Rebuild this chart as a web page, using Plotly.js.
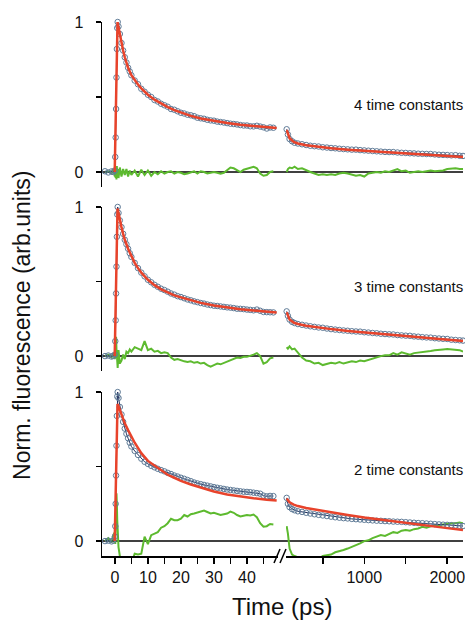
<!DOCTYPE html>
<html>
<head>
<meta charset="utf-8">
<script src="https://cdn.plot.ly/plotly-3.0.1.min.js"></script>
<style>html,body{margin:0;padding:0;background:#fff;}#plot{width:465px;height:623px;}</style>
</head>
<body>
<div id="plot"></div>
<script>
// ---- time grids (ps) ----
const tL = [-3,-2,-1,-0.5,0,0.12,0.24,0.36,0.48,0.6,0.72,0.85,1.1,1.5,2,2.5,3,3.5,4,4.5,5,
  6,7,8,9,10,11,12,13,14,15,16,17,18,19,20,21,22,23,24,25,26,27,28,29,30,31,32,33,34,35,36,37,38,39,40,41,42,43,44,45,46,47,48];
const tFitL = [-0.05,0.8,1.1,1.5,2,2.5,3,4,5,6,7,8,10,12,14,16,18,20,23,26,30,34,38,42,46,49];
const tR = [65,80,100,130,160,200,250,300,350,400,450,500,550,600,650,700,750,800,850,900,950,1000,1050,1100,1150,
  1200,1250,1300,1350,1400,1450,1500,1550,1600,1650,1700,1750,1800,1850,1900,1950,2000,2050,2100,2150,2190];
const tFitR = [65,100,150,200,300,400,600,800,1000,1200,1400,1600,1800,2000,2190];

// ---- panel 1: 4 time constants ----
const p1DataL = [0.005,-0.003,0.004,0.0,0.01,0.10,0.23,0.42,0.63,0.82,0.96,1.0,0.97,0.92,0.86,0.81,0.765,0.73,0.695,0.67,0.645,
  0.61,0.585,0.555,0.535,0.515,0.50,0.48,0.47,0.455,0.445,
  0.435,0.42,0.415,0.405,0.395,0.39,0.382,0.378,0.372,0.362,
  0.358,0.355,0.348,0.344,0.342,0.336,0.333,0.33,0.326,0.322,
  0.32,0.317,0.313,0.31,0.31,0.305,0.304,0.308,0.303,0.298,
  0.29,0.297,0.295];
const p1FitL = [0,1.0,0.965,0.915,0.86,0.81,0.765,0.695,0.645,0.61,0.583,0.558,0.515,0.482,0.455,0.432,0.412,0.395,0.374,0.357,0.34,0.327,0.315,0.306,0.298,0.293];
const p1ResL = [0.0,0.005,-0.01,0.02,-0.03,0.04,-0.04,0.03,-0.05,0.04,-0.03,0.02,-0.04,0.03,-0.03,0.02,-0.02,0.02,-0.03,0.01,-0.02,
  0.01,-0.03,0.015,-0.02,0.01,-0.025,0.0,-0.015,0.005,-0.01,
  0.0,0.005,-0.01,0.0,-0.005,-0.015,-0.01,0.0,0.005,-0.01,
  0.005,0.0,-0.01,-0.005,0.0,-0.005,-0.012,-0.005,0.015,0.03,
  0.025,0.01,0.0,0.015,0.02,0.03,0.035,0.025,-0.01,-0.025,
  -0.02,0.0,0.005];
const p1DataR = [0.285,0.25,0.22,0.205,0.195,
  0.19,0.185,0.18,0.175,0.172,0.17,0.165,0.163,0.16,0.158,
  0.155,0.153,0.151,0.149,0.149,0.146,0.144,0.142,0.14,0.138,
  0.136,0.134,0.133,0.133,0.13,0.128,0.127,0.125,0.124,0.122,
  0.121,0.12,0.12,0.117,0.115,0.114,0.113,0.111,0.112,0.108,
  0.107];
const p1FitR = [0.28,0.225,0.2,0.19,0.178,0.17,0.158,0.149,0.141,0.133,0.126,0.119,0.112,0.106,0.1];
const p1ResR = [0.0,0.02,0.03,0.025,0.035,
  0.02,0.025,0.01,0.0,-0.01,-0.02,-0.015,-0.02,-0.015,-0.02,
  -0.01,-0.005,-0.01,-0.02,-0.025,-0.02,-0.03,-0.01,-0.005,0.0,
  -0.005,0.005,0.0,0.01,0.02,0.005,0.01,-0.005,0.0,0.005,
  0.0,0.005,0.01,0.005,0.008,0.01,0.02,0.025,0.025,0.02,
  0.02];

// ---- panel 2: 3 time constants ----
const p2DataL = [0.0,0.004,-0.003,0.002,0.01,0.10,0.24,0.42,0.60,0.80,0.95,1.0,0.96,0.91,0.865,0.82,0.78,0.75,0.72,0.69,0.665,
  0.625,0.59,0.56,0.535,0.512,0.495,0.478,0.465,0.452,0.443,
  0.432,0.42,0.412,0.402,0.396,0.388,0.38,0.374,0.367,0.362,
  0.356,0.352,0.346,0.342,0.338,0.336,0.333,0.33,0.327,0.325,
  0.322,0.318,0.317,0.315,0.312,0.31,0.307,0.312,0.304,0.296,
  0.295,0.294,0.293];
const p2FitL = [0,0.99,0.96,0.91,0.865,0.82,0.78,0.72,0.667,0.625,0.59,0.56,0.512,0.476,0.448,0.425,0.407,0.394,0.374,0.357,0.339,0.326,0.315,0.306,0.298,0.292];
const p2ResL = [0.0,0.01,-0.01,0.02,-0.02,0.03,0.08,0.13,0.05,-0.06,0.02,-0.08,0.04,-0.05,-0.03,0.01,-0.02,0.03,0.02,0.045,0.03,
  0.06,0.05,0.04,0.1,0.04,0.05,0.03,0.035,0.02,0.025,
  0.02,-0.01,-0.025,-0.02,-0.03,-0.035,-0.04,-0.035,-0.045,-0.04,
  -0.05,-0.045,-0.06,-0.07,-0.06,-0.05,-0.055,-0.045,-0.04,-0.03,
  -0.015,-0.01,-0.012,-0.005,-0.005,0.0,0.01,0.02,0.0,-0.05,
  -0.04,-0.015,-0.01];
const p2DataR = [0.3,0.27,0.245,0.23,0.222,
  0.215,0.21,0.205,0.2,0.196,0.192,0.19,0.185,0.181,0.178,
  0.175,0.172,0.17,0.167,0.165,0.164,0.16,0.158,0.155,0.153,
  0.15,0.148,0.146,0.145,0.141,0.139,0.137,0.136,0.132,0.13,
  0.127,0.125,0.124,0.12,0.118,0.116,0.115,0.11,0.108,0.106,
  0.104];
const p2FitR = [0.295,0.245,0.225,0.215,0.204,0.195,0.181,0.169,0.158,0.148,0.139,0.129,0.12,0.111,0.102];
const p2ResR = [0.06,0.05,0.065,0.045,0.05,
  0.02,-0.01,-0.03,-0.035,-0.05,-0.045,-0.06,-0.055,-0.045,-0.05,
  -0.04,-0.05,-0.045,-0.035,-0.04,-0.03,-0.035,-0.025,-0.02,-0.01,
  0.0,0.005,0.005,0.02,0.01,0.025,0.015,0.01,0.02,0.025,
  0.03,0.03,0.035,0.04,0.045,0.045,0.048,0.045,0.045,0.04,
  0.03];

// ---- panel 3: 2 time constants ----
const p3DataL = [0.0,0.003,-0.002,0.004,0.03,0.10,0.25,0.44,0.64,0.84,0.97,1.0,0.96,0.90,0.85,0.80,0.755,0.72,0.69,0.66,0.635,
  0.605,0.578,0.553,0.532,0.518,0.505,0.495,0.485,0.476,0.468,
  0.458,0.45,0.44,0.433,0.425,0.418,0.41,0.402,0.393,0.387,
  0.382,0.377,0.372,0.367,0.362,0.358,0.354,0.35,0.346,0.343,
  0.34,0.337,0.334,0.331,0.33,0.328,0.325,0.322,0.318,0.305,
  0.3,0.303,0.302];
const p3FitL = [0,0.92,0.905,0.88,0.85,0.82,0.79,0.745,0.70,0.66,0.625,0.59,0.538,0.505,0.474,0.445,0.425,0.404,0.38,0.358,0.333,0.313,0.298,0.287,0.278,0.273];
const p3ResL = [0.0,0.02,-0.01,0.04,0.06,-0.02,0.1,0.2,0.32,0.25,0.14,0.05,-0.04,-0.1,-0.13,-0.15,-0.16,-0.16,-0.16,-0.16,-0.15,
  -0.085,-0.09,-0.085,0.03,-0.02,0.04,0.05,0.06,0.09,0.1,
  0.12,0.15,0.14,0.14,0.15,0.175,0.165,0.18,0.185,0.19,
  0.2,0.205,0.195,0.185,0.19,0.18,0.175,0.18,0.185,0.198,
  0.19,0.175,0.165,0.17,0.175,0.172,0.178,0.16,0.12,0.096,
  0.1,0.115,0.112];
const p3DataR = [0.29,0.25,0.228,0.215,0.207,
  0.2,0.196,0.19,0.185,0.18,0.176,0.172,0.168,0.164,0.16,
  0.157,0.154,0.152,0.149,0.147,0.145,0.143,0.141,0.139,0.137,
  0.136,0.134,0.133,0.131,0.13,0.129,0.127,0.125,0.123,0.121,
  0.12,0.118,0.116,0.114,0.112,0.11,0.109,0.107,0.105,0.103,
  0.101];
const p3FitR = [0.285,0.26,0.245,0.235,0.222,0.212,0.193,0.175,0.158,0.143,0.128,0.114,0.1,0.087,0.075];
const p3ResR = [0.1,0.05,-0.05,-0.09,-0.1,
  -0.11,-0.12,-0.13,-0.13,-0.12,-0.12,-0.1,-0.095,-0.09,-0.075,
  -0.07,-0.06,-0.05,-0.04,-0.025,-0.015,0.0,0.005,0.02,0.03,
  0.04,0.035,0.05,0.06,0.055,0.07,0.075,0.07,0.08,0.085,
  0.096,0.09,0.1,0.105,0.11,0.112,0.12,0.12,0.12,0.125,
  0.12];

const panelLabels = ['4 time constants','3 time constants','2 time constants'];
const xLeftTicks = [0,5,10,15,20,25,30,35,40,45];
const xLeftText = ['0','','10','','20','','30','','40',''];
const xRightTicks = [500,1000,1500,2000];
const xRightText = ['','1000','','2000'];
const yTicks = [0,0.5,1];
const yText = ['0','','1'];

const RED = '#e8432b', GREEN = '#5dba2f', CIRC = '#5f7b97', DARK = '#1f2d5c';
const FONT = 'Liberation Sans, Arial, sans-serif';

function panelTraces(xa, xb, ya, dL, fL, rL, dR, fR, rR) {
  const tr = [];
  const res = (x, y, xax) => ({x, y, xaxis: xax, yaxis: ya, type: 'scatter', mode: 'lines',
    line: {color: GREEN, width: 2}, hoverinfo: 'skip'});
  const dat = (x, y, xax) => ({x, y, xaxis: xax, yaxis: ya, type: 'scatter', mode: 'lines+markers',
    line: {color: DARK, width: 1}, cliponaxis: false,
    marker: {symbol: 'circle-open', size: 5.5, color: CIRC, line: {width: 1, color: CIRC}}, hoverinfo: 'skip'});
  const fit = (x, y, xax) => ({x, y, xaxis: xax, yaxis: ya, type: 'scatter', mode: 'lines',
    line: {color: RED, width: 2.5}, hoverinfo: 'skip'});
  tr.push(res(tL, rL, xa), res(tR, rR, xb));
  tr.push(dat(tL, dL, xa), dat(tR, dR, xb));
  tr.push(fit(tFitL, fL, xa), fit(tFitR, fR, xb));
  return tr;
}

const traces = [].concat(
  panelTraces('x', 'x2', 'y', p1DataL, p1FitL, p1ResL, p1DataR, p1FitR, p1ResR),
  panelTraces('x3', 'x4', 'y2', p2DataL, p2FitL, p2ResL, p2DataR, p2FitR, p2ResR),
  panelTraces('x5', 'x6', 'y3', p3DataL, p3FitL, p3ResL, p3DataR, p3FitR, p3ResR)
);
traces.forEach(t => t.showlegend = false);

const LD = [0, 0.4875], RD = [0.5097, 1];
const xL = [-3.9, 49.4], xR = [57, 2190];
const hiddenX = (dom, rng, anc) => ({domain: dom, range: rng, anchor: anc, visible: false, fixedrange: true});
const yAx = (dom, anc) => ({domain: dom, range: [-0.1, 1.0], anchor: anc, showline: true, linecolor: '#000', linewidth: 1.5,
  ticks: 'outside', ticklen: 5, tickwidth: 1.5, tickcolor: '#000', tickvals: yTicks, ticktext: yText,
  tickfont: {size: 16, color: '#111', family: FONT}, ticklabelstandoff: 9, showgrid: false, zeroline: false, fixedrange: true});
const botX = (dom, rng, tv, tt) => ({domain: dom, range: rng, anchor: 'y3', showline: true, linecolor: '#000', linewidth: 1.5,
  ticks: 'outside', ticklen: 6, tickwidth: 1.5, tickcolor: '#000', tickvals: tv, ticktext: tt, ticklabeloverflow: 'allow',
  tickfont: {size: 16, color: '#111', family: FONT}, showgrid: false, zeroline: false, fixedrange: true});

const shapes = [];
['y', 'y2', 'y3'].forEach(yr => shapes.push({type: 'line', xref: 'paper', yref: yr, x0: -0.0166, x1: 1, y0: 0, y1: 0,
  line: {color: '#000', width: 1.5}, layer: 'below'}));
shapes.push({type: 'line', xref: 'paper', yref: 'paper', x0: 0.4765, y0: -0.0131, x1: 0.4931, y1: 0.0131, line: {color: '#000', width: 1.5}});
shapes.push({type: 'line', xref: 'paper', yref: 'paper', x0: 0.4931, y0: -0.0131, x1: 0.5097, y1: 0.0131, line: {color: '#000', width: 1.5}});

const annotations = [
  {text: 'Norm. fluorescence (arb.units)', xref: 'paper', yref: 'paper', x: -0.22, y: 0.432, textangle: -90,
   showarrow: false, xanchor: 'center', yanchor: 'middle', font: {size: 23, color: '#111', family: FONT}},
  {text: 'Time (ps)', xref: 'paper', yref: 'paper', x: 0.4986, y: -0.0955, showarrow: false,
   xanchor: 'center', yanchor: 'middle', font: {size: 24, color: '#111', family: FONT}}
];
[['y', 0.45], ['y2', 0.47], ['y3', 0.48]].forEach((p, i) => annotations.push({
  text: panelLabels[i], xref: 'paper', yref: p[0], x: 1.006, y: p[1], showarrow: false,
  xanchor: 'right', yanchor: 'middle', font: {size: 15, color: '#111', family: FONT}}));

const layout = {
  width: 465, height: 623,
  margin: {l: 102, r: 2, t: 22, b: 67},
  paper_bgcolor: '#fff', plot_bgcolor: '#fff',
  font: {family: FONT, color: '#111'},
  showlegend: false,
  xaxis: hiddenX(LD, xL, 'y'), xaxis2: hiddenX(RD, xR, 'y'),
  xaxis3: hiddenX(LD, xL, 'y2'), xaxis4: hiddenX(RD, xR, 'y2'),
  xaxis5: botX(LD, xL, xLeftTicks, xLeftText), xaxis6: botX(RD, xR, xRightTicks, xRightText),
  yaxis: yAx([0.691, 1], 'x'), yaxis2: yAx([0.3464, 0.6536], 'x3'), yaxis3: yAx([0, 0.307], 'x5'),
  shapes, annotations
};

Plotly.newPlot('plot', traces, layout, {staticPlot: true, displayModeBar: false});
</script>
</body>
</html>
